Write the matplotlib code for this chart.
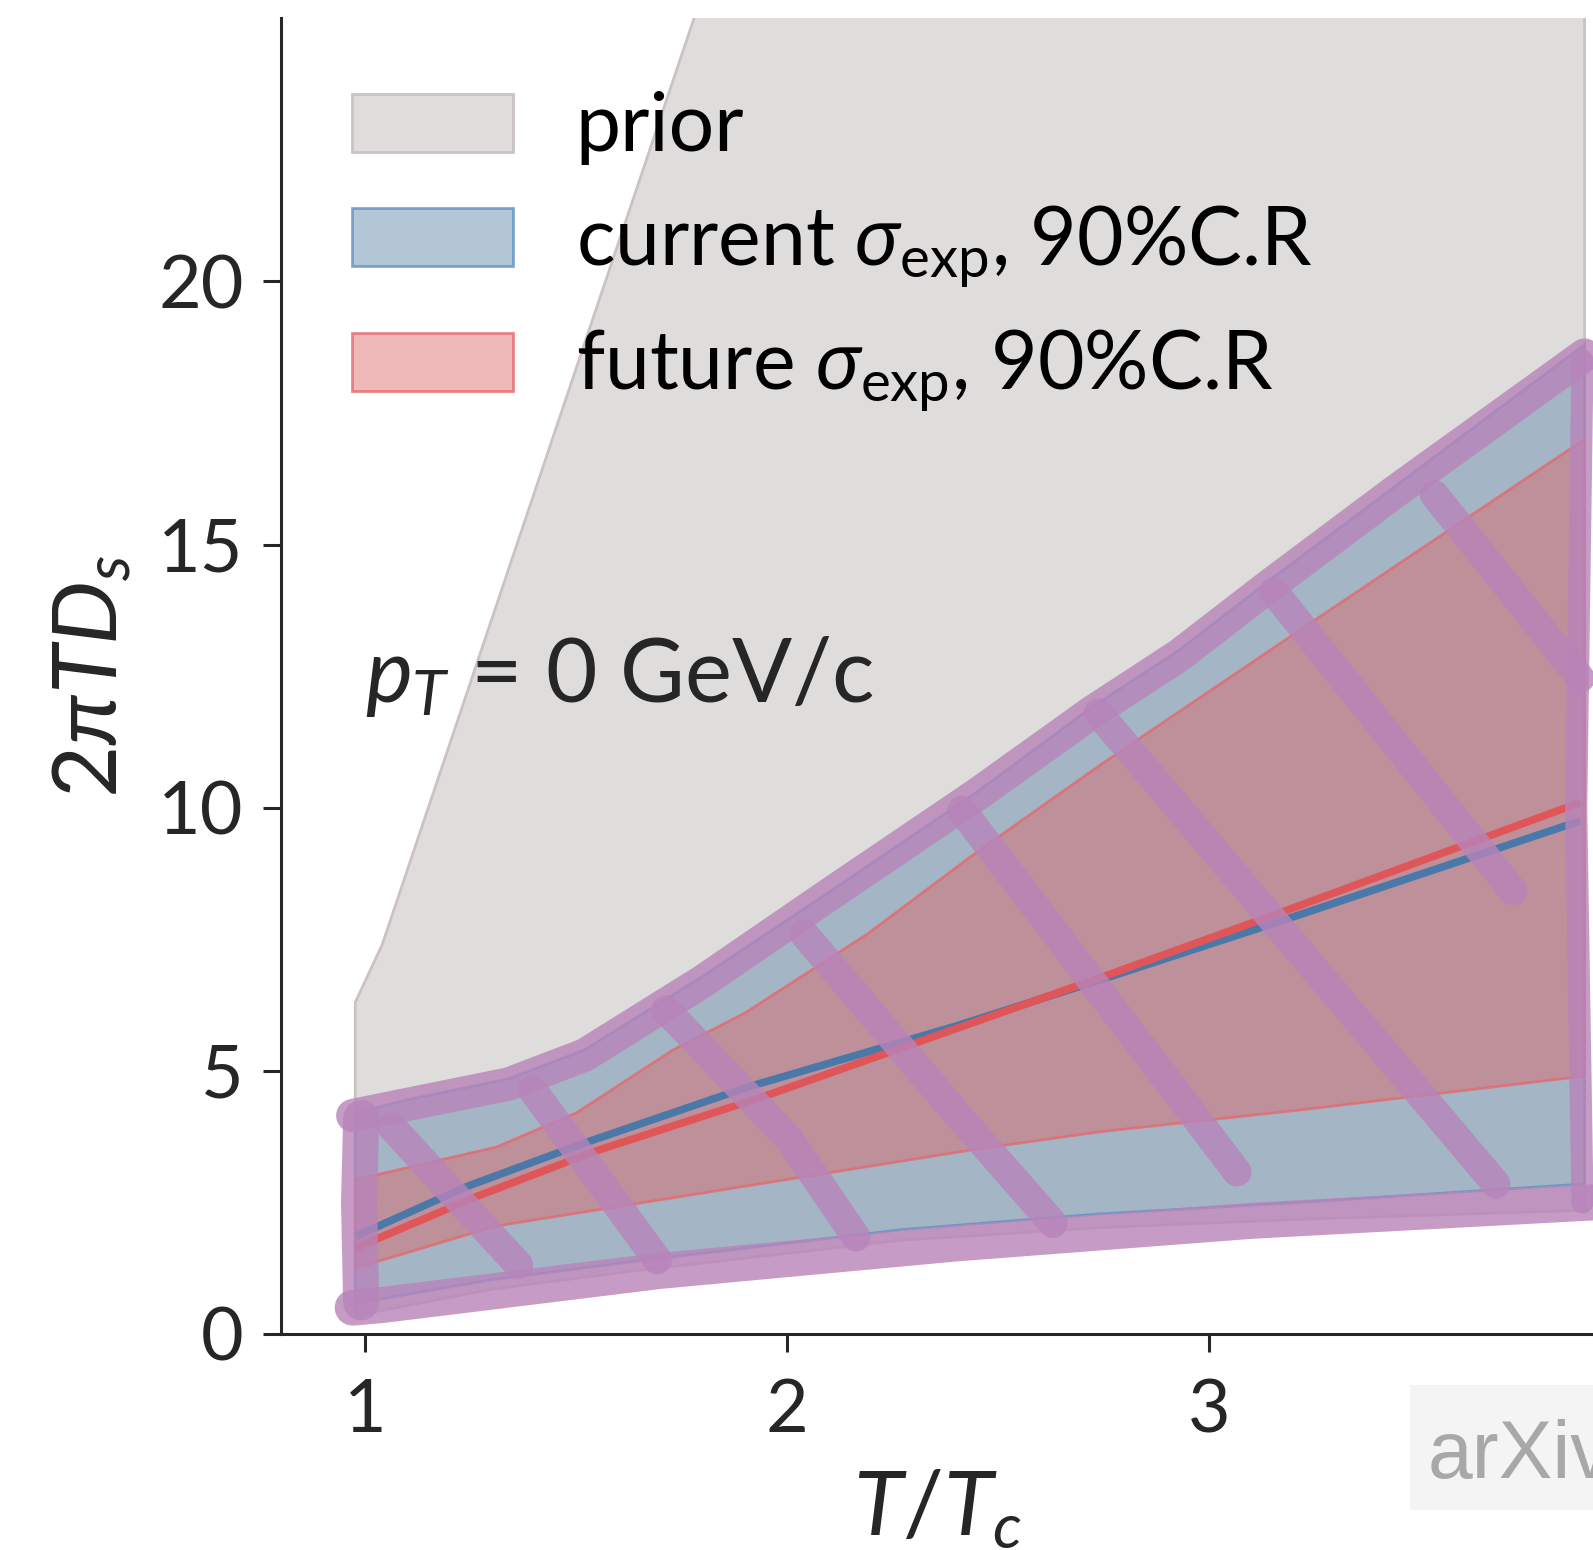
import matplotlib
matplotlib.use("Agg")
import matplotlib.pyplot as plt
from matplotlib.patches import Rectangle

# prior band (clipped at the top of the axes)
prior_up_x = [0.976, 1.04, 1.80, 3.89]
prior_up = [6.3, 7.4, 25.5, 25.5]
prior_lo_x = [0.976, 1.30, 1.66, 2.27, 2.74, 3.22, 3.89]
prior_lo = [0.35, 0.85, 1.22, 1.78, 2.02, 2.18, 2.35]

# current sigma_exp, 90% C.R.
cur_up_x = [0.976, 1.10, 1.34, 1.52, 1.80, 2.10, 2.45, 2.72, 2.93, 3.14, 3.44, 3.89]
cur_up = [4.2, 4.45, 4.85, 5.4, 6.8, 8.4, 10.3, 11.9, 13.0, 14.3, 16.1, 18.8]
cur_lo_x = [0.976, 1.30, 1.66, 2.27, 2.74, 3.22, 3.89]
cur_lo = [0.58, 1.03, 1.40, 1.98, 2.28, 2.50, 2.85]
cur_med_x = [0.976, 1.24, 1.52, 1.91, 2.40, 2.77, 3.16, 3.88]
cur_med = [1.85, 2.8, 3.63, 4.7, 5.85, 6.8, 7.82, 9.75]

# future sigma_exp, 90% C.R.
fut_up_x = [0.976, 1.31, 1.50, 1.73, 1.90, 2.19, 2.44, 2.74, 3.22, 3.89]
fut_up = [2.93, 3.55, 4.2, 5.4, 6.1, 7.6, 9.1, 10.8, 13.4, 17.0]
fut_lo_x = [0.976, 1.31, 1.70, 2.44, 2.74, 3.22, 3.89]
fut_lo = [1.25, 2.05, 2.55, 3.5, 3.84, 4.26, 4.9]
fut_med_x = [0.976, 1.26, 1.54, 1.94, 2.40, 2.77, 3.16, 3.88]
fut_med = [1.63, 2.6, 3.46, 4.5, 5.8, 6.85, 7.98, 10.1]

# hand-drawn highlighter marks on top of the figure (data coordinates)
hl_top = [(0.97, 4.15), (1.34, 4.75), (1.52, 5.3), (1.80, 6.7), (2.10, 8.35), (2.45, 10.25),
          (2.72, 11.8), (2.93, 12.9), (3.14, 14.2), (3.44, 16.0), (3.89, 18.6)]
hl_bottom = [(0.97, 0.5), (1.04, 0.55), (1.70, 1.2), (2.40, 1.72), (3.10, 2.15), (3.91, 2.5)]
hl_left = [(0.99, 4.1), (0.985, 2.5), (0.99, 0.6)]
hl_right = [(3.885, 18.5), (3.87, 10.0), (3.885, 2.5)]
hl_diag = [
    [(1.062, 3.94), (1.363, 1.31)],
    [(1.396, 4.64), (1.692, 1.41)],
    [(1.712, 6.16), (2.006, 3.69), (2.163, 1.84)],
    [(2.04, 7.6), (2.40, 4.2), (2.63, 2.1)],
    [(2.414, 9.95), (3.066, 3.08)],
    [(2.737, 11.8), (3.68, 2.85)],
    [(3.154, 14.1), (3.72, 8.42)],
    [(3.534, 15.95), (3.88, 12.46)],
]

x_ticks = [1, 2, 3]
y_ticks = [0, 5, 10, 15, 20]
labels = ["prior", r"current $\sigma_{\mathrm{exp}}$, 90%C.R", r"future $\sigma_{\mathrm{exp}}$, 90%C.R"]


def band(ax, up_x, up, lo_x, lo, **kw):
    xs = list(lo_x) + list(up_x)[::-1]
    ys = list(lo) + list(up)[::-1]
    return ax.fill(xs, ys, **kw)[0]


def stroke(ax, pts, lw):
    xs, ys = zip(*pts)
    ax.plot(xs, ys, color=(184 / 255, 132 / 255, 186 / 255), alpha=0.8, lw=lw,
            solid_capstyle="round", solid_joinstyle="round", zorder=10)


def main() -> None:
    plt.rcParams["font.family"] = ["Lato", "DejaVu Sans"]
    plt.rcParams["mathtext.fontset"] = "custom"
    plt.rcParams["mathtext.rm"] = "Lato"
    plt.rcParams["mathtext.it"] = "Lato:italic"
    plt.rcParams["mathtext.bf"] = "Lato:bold"

    dark = "#262626"
    fig = plt.figure(figsize=(15.93, 15.5), dpi=100)
    ax = fig.add_axes([0.1764, 0.1394, 0.8236, 0.8488])

    p_prior = band(ax, prior_up_x, prior_up, prior_lo_x, prior_lo,
                   facecolor="#dfdcdc", edgecolor="#cbc3c3", lw=2, label=labels[0], zorder=1)
    p_cur = band(ax, cur_up_x, cur_up, cur_lo_x, cur_lo,
                 facecolor=(112 / 255, 149 / 255, 178 / 255, 0.53),
                 edgecolor=(90 / 255, 140 / 255, 195 / 255, 0.75), lw=2, label=labels[1], zorder=2)
    p_fut = band(ax, fut_up_x, fut_up, fut_lo_x, fut_lo,
                 facecolor=(221 / 255, 104 / 255, 106 / 255, 0.47),
                 edgecolor=(228 / 255, 105 / 255, 110 / 255, 0.8), lw=2, label=labels[2], zorder=3)

    ax.plot(cur_med_x, cur_med, color="#4a78a8", lw=5.5, zorder=4, solid_capstyle="butt")
    ax.plot(fut_med_x, fut_med, color="#e05558", lw=5.5, zorder=5, solid_capstyle="butt")

    stroke(ax, hl_top, 24)
    stroke(ax, hl_bottom, 26)
    stroke(ax, hl_left, 26)
    stroke(ax, hl_right, 16)
    for pts in hl_diag:
        stroke(ax, pts, 21)

    ax.text(1.0, 12.0, r"$p_T$ = 0 GeV/c", fontsize=64, color=dark, zorder=6)

    ax.set_xlim(0.8, 3.91)
    ax.set_ylim(0, 25)
    ax.set_xticks(x_ticks)
    ax.set_yticks(y_ticks)
    ax.tick_params(labelsize=53, length=13, width=2.2, colors=dark)
    ax.tick_params(axis="x", pad=19)
    ax.tick_params(axis="y", pad=14)
    for side in ("top", "right"):
        ax.spines[side].set_visible(False)
    for side in ("left", "bottom"):
        ax.spines[side].set_linewidth(2.2)
        ax.spines[side].set_color(dark)

    ax.set_xlabel(r"$T/T_c$", fontsize=65, color=dark, labelpad=16)
    ax.set_ylabel(r"$2\pi TD_s$", fontsize=65, color=dark, labelpad=18)

    ax.legend(handles=[p_prior, p_cur, p_fut], loc="upper left", bbox_to_anchor=(0.054, 0.9445),
              frameon=False, fontsize=58, handlelength=2.0, handleheight=0.73,
              handletextpad=0.78, labelspacing=0.47, borderpad=0, borderaxespad=0)

    # arXiv watermark, cut at the right edge
    fig.patches.append(Rectangle((1410 / 1593, 1 - 1510 / 1550), 0.2, 125 / 1550,
                                 transform=fig.transFigure, facecolor="#f4f4f4",
                                 edgecolor="none", zorder=0))
    fig.text(1428 / 1593, 1 - 1478 / 1550, "arXiv", family="Liberation Sans",
             fontsize=58, color="#a8a8a8", va="baseline")

    fig.savefig("out.png", dpi=100)


if __name__ == "__main__":
    main()
